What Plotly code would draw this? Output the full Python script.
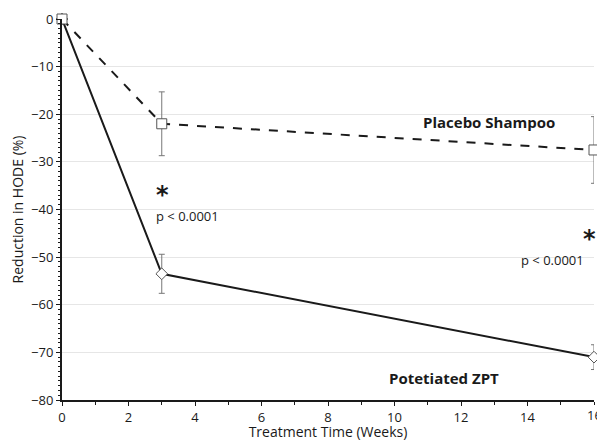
import plotly.graph_objects as go

weeks = [0, 3, 16]
placebo = [0, -22, -27.5]
placebo_err = [0, 6.7, 7.0]
zpt = [0, -53.5, -71]
zpt_err = [0, 4.1, 2.6]
y_ticks = [0, -10, -20, -30, -40, -50, -60, -70, -80]
x_ticks = [0, 2, 4, 6, 8, 10, 12, 14, 16]

FONT = "Open Sans"
INK = "#1a1a1a"
fig = go.Figure()
fig.add_trace(go.Scatter(
    x=weeks, y=zpt, mode="lines+markers",
    line=dict(color=INK, width=2),
    marker=dict(symbol="diamond", size=9, color="white", line=dict(color="#555", width=1)),
    error_y=dict(type="data", array=zpt_err, color="#777", thickness=1, width=3),
    cliponaxis=False, showlegend=False))
fig.add_trace(go.Scatter(
    x=weeks, y=placebo, mode="lines+markers",
    line=dict(color=INK, width=2, dash="dash"),
    marker=dict(symbol="square", size=10, color="white", line=dict(color="#555", width=1)),
    error_y=dict(type="data", array=placebo_err, color="#777", thickness=1, width=3),
    cliponaxis=False, showlegend=False))

fig.add_annotation(x=12.85, y=-21.6, text="<b>Placebo Shampoo</b>", showarrow=False,
                   font=dict(family=FONT, size=15, color=INK))
fig.add_annotation(x=11.5, y=-75.3, text="<b>Potetiated ZPT</b>", showarrow=False,
                   font=dict(family=FONT, size=15, color=INK))
fig.add_annotation(x=3, y=-37.0, text="<b>*</b>", font=dict(family="DejaVu Sans", size=24, color=INK),
                   showarrow=False, xanchor="left", xshift=-8)
fig.add_annotation(x=3, y=-41.4, text="p < 0.0001", font=dict(family=FONT, size=13, color=INK),
                   showarrow=False, xanchor="left", xshift=-8)
fig.add_annotation(x=16, y=-46.2, text="<b>*</b>", font=dict(family="DejaVu Sans", size=24, color=INK),
                   showarrow=False, xanchor="right", xshift=4)
fig.add_annotation(x=16, y=-50.7, text="p < 0.0001", font=dict(family=FONT, size=13, color=INK),
                   showarrow=False, xanchor="right", xshift=-8)
# last x tick label, which the browser edge cuts in the reference
fig.add_annotation(x=x_ticks[-1], y=0, yref="paper", yanchor="top", yshift=-4,
                   text=str(x_ticks[-1]), showarrow=False, font=dict(family=FONT, size=13, color=INK))

fig.update_layout(
    width=597, height=441, margin=dict(l=62, r=3, t=19, b=41, autoexpand=False),
    plot_bgcolor="white", paper_bgcolor="white",
    font=dict(family=FONT, size=13, color=INK),
    xaxis=dict(range=[0, 16], tickvals=x_ticks[:-1], ticks="outside", ticklen=4, tickcolor=INK,
               showline=True, linecolor=INK, linewidth=2, showgrid=False, zeroline=False,
               automargin=False,
               minor=dict(dtick=1, ticks="outside", ticklen=3, tickcolor=INK),
               title=dict(text="Treatment Time (Weeks)", standoff=5, font=dict(size=14))),
    yaxis=dict(range=[-80, 0], tickvals=y_ticks, ticks="outside", ticklen=4, tickcolor=INK,
               showline=True, linecolor=INK, linewidth=2, showgrid=True, gridcolor="#e6e6e6",
               zeroline=False, automargin=False,
               minor=dict(dtick=1, ticks="outside", ticklen=2, tickcolor=INK, showgrid=False),
               title=dict(text="Reduction in HODE (%)", standoff=4, font=dict(size=14))),
)
fig.write_html("out.html", config={"displayModeBar": False},
               post_script="document.body.style.margin='0';document.body.style.overflow='hidden';")
